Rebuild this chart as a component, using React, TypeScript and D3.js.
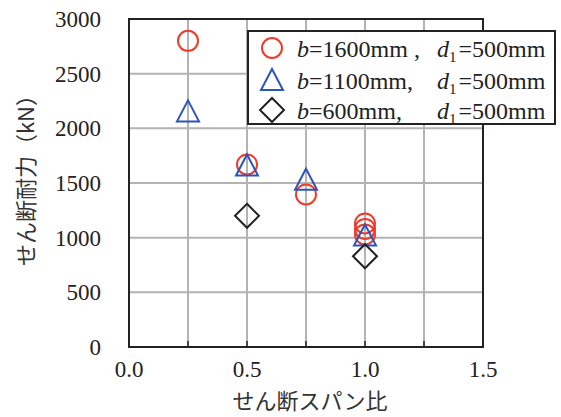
import React from "react";
import * as d3 from "d3";

// せん断スパン比 vs せん断耐力
const circleX = [0.25, 0.5, 0.75, 1.0, 1.0, 1.0];
const circleY = [2800, 1670, 1395, 1130, 1080, 1030];
const triangleX = [0.25, 0.5, 0.75, 1.0];
const triangleY = [2155, 1660, 1530, 1020];
const diamondX = [0.5, 1.0];
const diamondY = [1200, 830];

const xTicks = [0, 0.5, 1.0, 1.5];
const xGrid = [0.25, 0.5, 0.75, 1.0, 1.25];
const yTicks = [0, 500, 1000, 1500, 2000, 2500, 3000];

const legendLabels = ["1600mm , ", "1100mm, ", "600mm, "];

const RED = "#ee3b2b";
const BLUE = "#2c55b8";
const BLACK = "#222";

const W = 561;
const H = 417;
const serif = "'Liberation Serif', 'Times New Roman', serif";
const jp = "'Noto Sans CJK JP', sans-serif";

export default function App() {
  const x = d3.scaleLinear().domain([0, 1.5]).range([129, 483]);
  const y = d3.scaleLinear().domain([0, 3000]).range([347, 19]);

  const tri = (cx: number, cy: number) =>
    `M${cx},${cy - 11}L${cx + 11},${cy + 10}L${cx - 11},${cy + 10}Z`;
  const dia = (cx: number, cy: number) =>
    `M${cx},${cy - 12}L${cx + 12},${cy}L${cx},${cy + 12}L${cx - 12},${cy}Z`;

  const legendRows = [48, 80, 110];

  return (
    <svg
      width={W}
      height={H}
      style={{ position: "absolute", left: 0, top: 0, background: "#fff" }}
    >
      {/* grid */}
      {xGrid.map((v) => (
        <line key={"gx" + v} x1={x(v)} x2={x(v)} y1={y(0)} y2={y(3000)} stroke="#b3b3b3" strokeWidth={2} />
      ))}
      {yTicks.slice(1, -1).map((v) => (
        <line key={"gy" + v} x1={x(0)} x2={x(1.5)} y1={y(v)} y2={y(v)} stroke="#b3b3b3" strokeWidth={2} />
      ))}
      {/* bottom ticks */}
      {xGrid.map((v) => (
        <line key={"tx" + v} x1={x(v)} x2={x(v)} y1={y(0)} y2={y(0) - 6} stroke={BLACK} strokeWidth={1.5} />
      ))}
      <rect x={x(0)} y={y(3000)} width={x(1.5) - x(0)} height={y(0) - y(3000)} fill="none" stroke={BLACK} strokeWidth={2} />

      {/* tick labels */}
      {yTicks.map((v) => (
        <text key={"ly" + v} x={101} y={y(v) + 8} textAnchor="end" fontFamily={serif} fontSize={23} fill={BLACK}>
          {v}
        </text>
      ))}
      {xTicks.map((v) => (
        <text key={"lx" + v} x={x(v)} y={377} textAnchor="middle" fontFamily={serif} fontSize={23} fill={BLACK}>
          {d3.format(".1f")(v)}
        </text>
      ))}
      <text x={310} y={409} textAnchor="middle" fontFamily={jp} fontSize={22} fill="#333">
        せん断スパン比
      </text>
      <text transform="translate(34,175) rotate(-90)" textAnchor="middle" fontFamily={jp} fontSize={22} fill="#333">
        せん断耐力（kN）
      </text>

      {/* points */}
      {circleX.map((v, i) => (
        <circle key={"c" + i} cx={x(v)} cy={y(circleY[i])} r={10} fill="none" stroke={RED} strokeWidth={2} />
      ))}
      {triangleX.map((v, i) => (
        <path key={"t" + i} d={tri(x(v), y(triangleY[i]))} fill="none" stroke={BLUE} strokeWidth={2} />
      ))}
      {diamondX.map((v, i) => (
        <path key={"d" + i} d={dia(x(v), y(diamondY[i]))} fill="none" stroke={BLACK} strokeWidth={2} />
      ))}

      {/* legend */}
      <rect x={248} y={31} width={307} height={93} fill="#fff" stroke={BLACK} strokeWidth={2} />
      <circle cx={272} cy={legendRows[0]} r={10} fill="none" stroke={RED} strokeWidth={2} />
      <path d={tri(272, legendRows[1])} fill="none" stroke={BLUE} strokeWidth={2} />
      <path d={dia(272, legendRows[2])} fill="none" stroke={BLACK} strokeWidth={2} />
      {legendLabels.map((lab, i) => (
        <g key={"lg" + i} fontFamily={serif} fontSize={24} fill={BLACK}>
          <text x={297} y={legendRows[i] + 9}>
            <tspan fontStyle="italic">b</tspan>={lab}
          </text>
          <text x={437} y={legendRows[i] + 9}>
            <tspan fontStyle="italic">d</tspan>
            <tspan fontSize={15} dy={5}>1</tspan>
            <tspan dy={-5} dx={2}>=500mm</tspan>
          </text>
        </g>
      ))}
    </svg>
  );
}
